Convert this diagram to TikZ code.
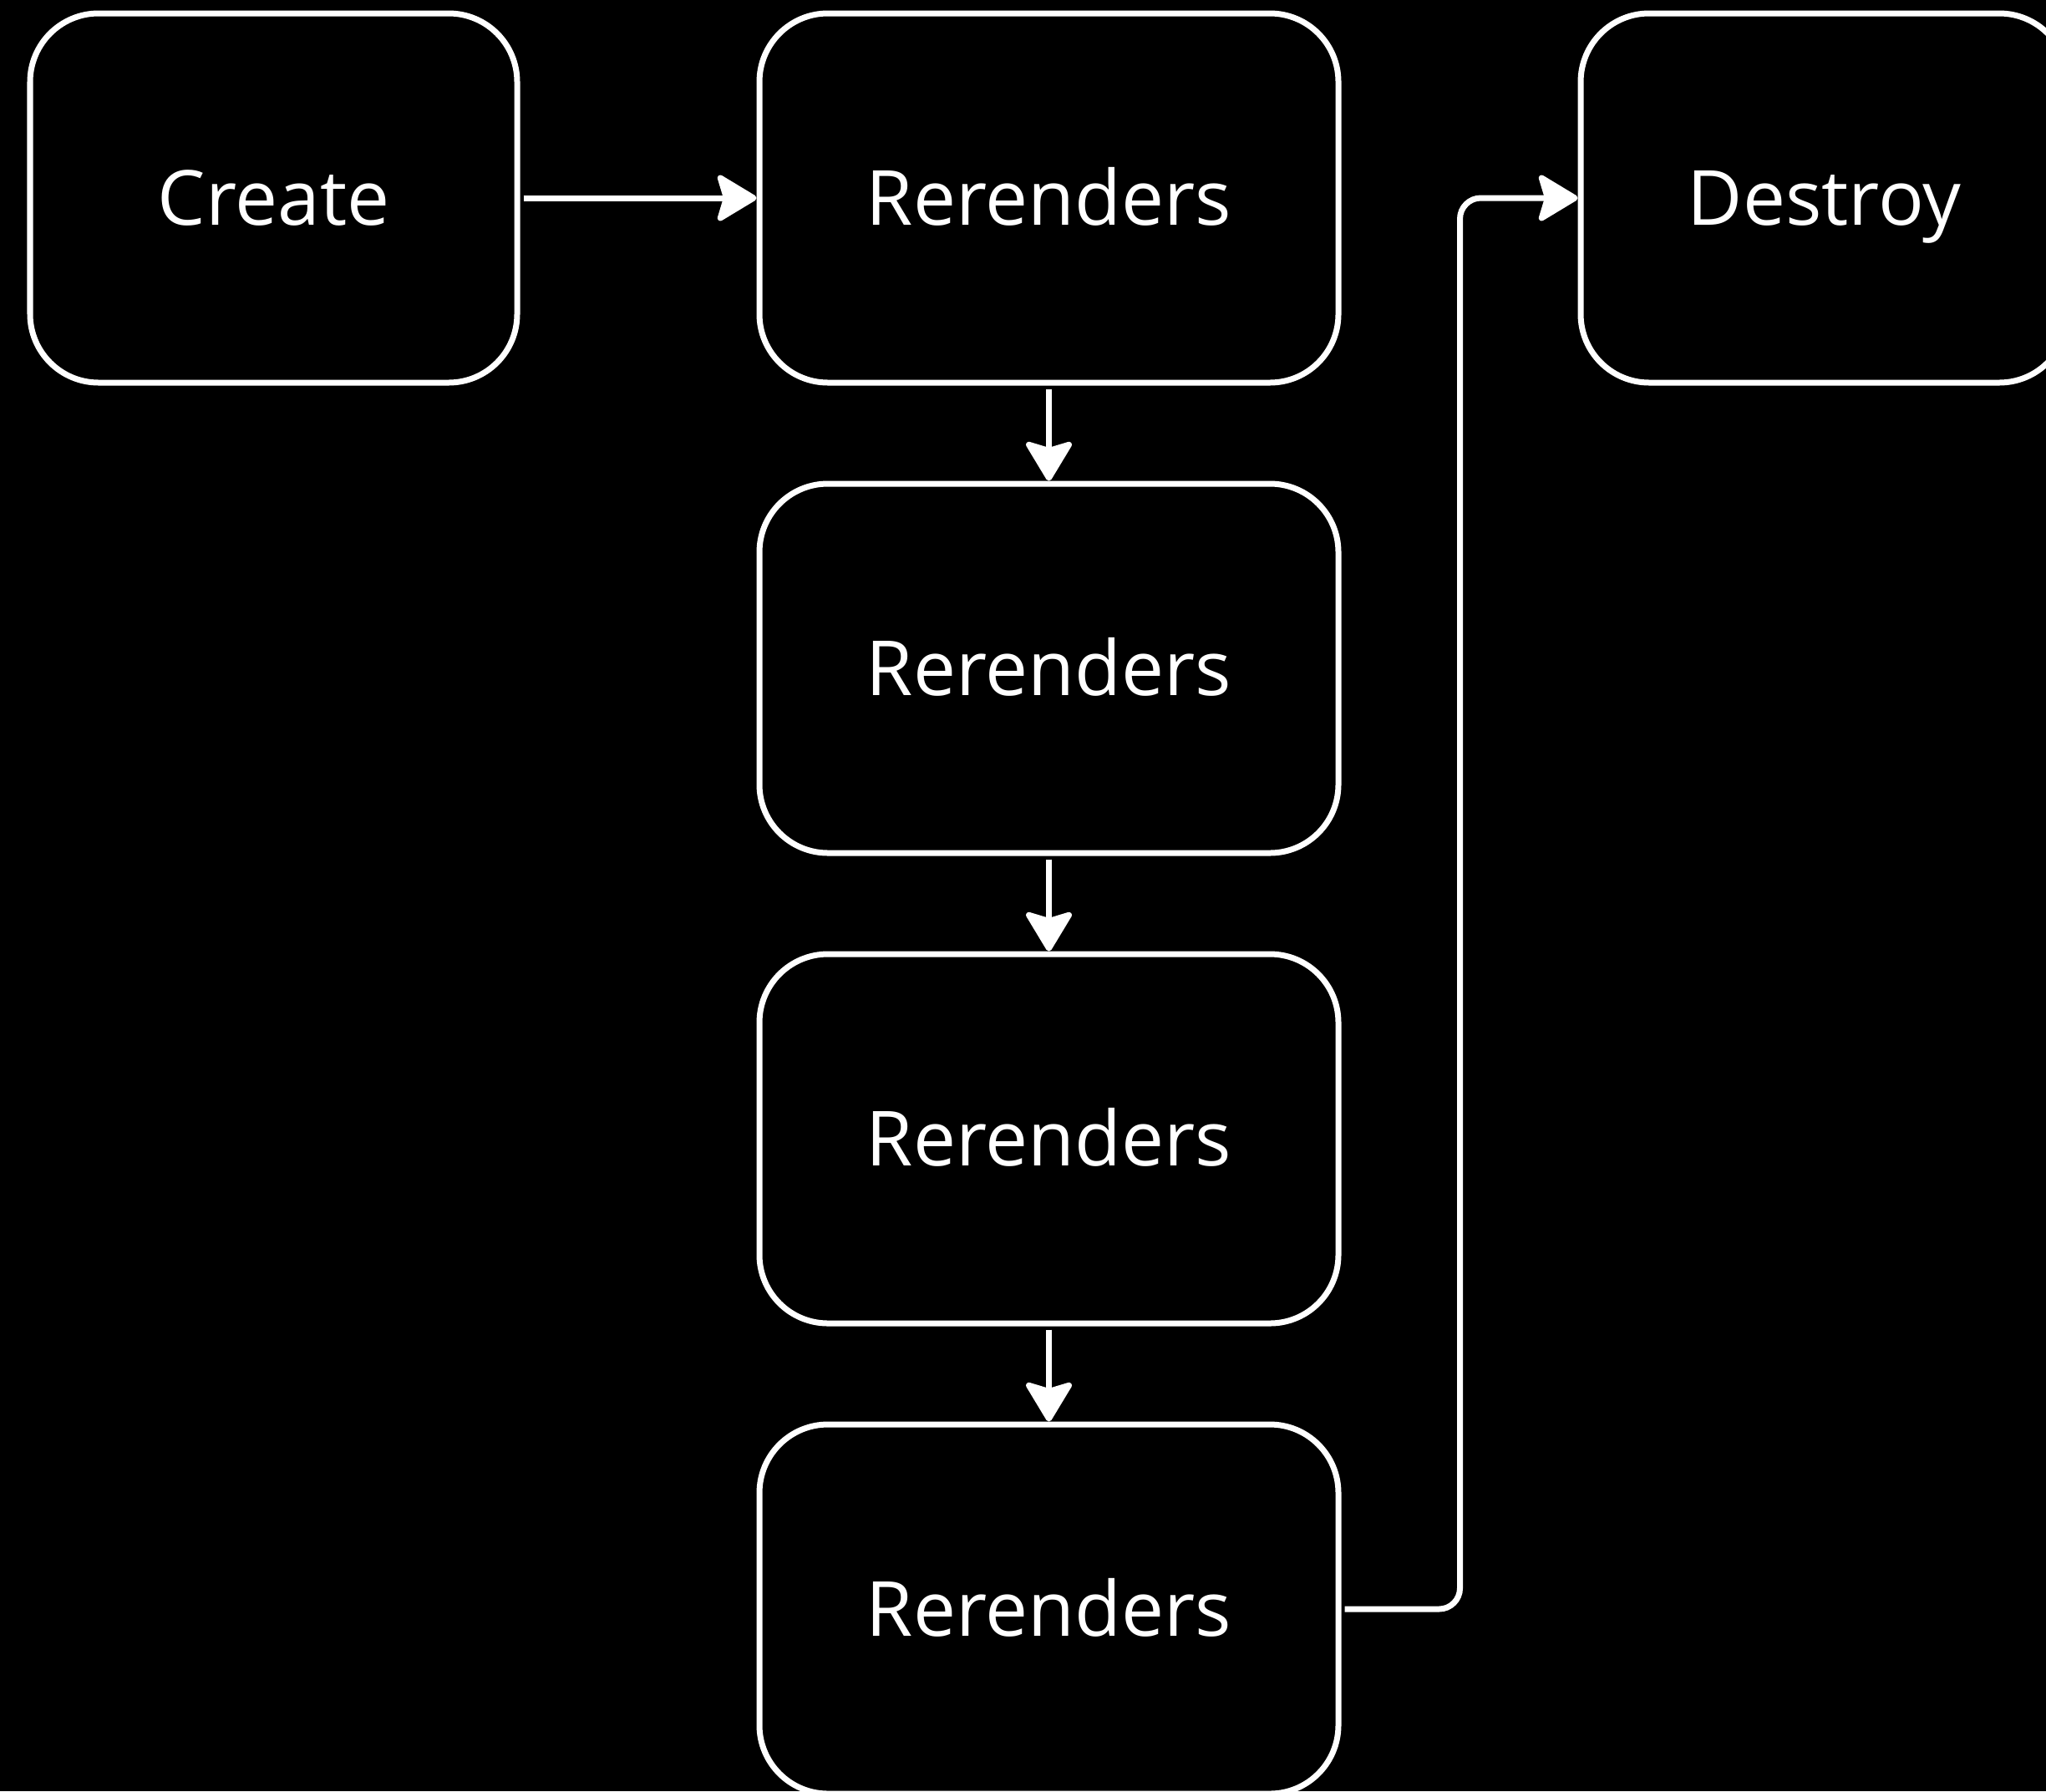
\documentclass[tikz,border=0pt]{standalone}
\usepackage{fontspec}
\setmainfont{Open Sans}
\usetikzlibrary{arrows.meta}
\usetikzlibrary{positioning}

\begin{document}
\begin{tikzpicture}[
      block/.style ={rectangle, draw=white, line width=0.07cm, rounded corners=0.82cm,
                     minimum height=4.42cm, text=white, font=\fontsize{25.9}{31}\selectfont,
                     text height=0.65cm, text depth=0pt},
      small/.style ={block, minimum width=5.83cm},
      wide/.style  ={block, minimum width=6.93cm},
      link/.style  ={-{Stealth[length=0.52cm, width=0.62cm, inset=0.09cm, round, fill=white]},
                     white, line width=0.07cm, shorten <=0.04cm},
      node distance=1.14cm and 2.83cm
    ]
    \useasboundingbox [fill=black] (0,0) rectangle (24.49,-21.44);

    \node [small] (create) at (3.275,-2.37) {Create} ;
    \node [wide] (render1) [right=of create] {Rerenders} ;
    \node [wide] (render2) [below=of render1] {Rerenders} ;
    \node [wide] (render3) [below=of render2] {Rerenders} ;
    \node [wide] (render4) [below=of render3] {Rerenders} ;
    \node [small] (destroy) [right=of render1] {Destroy} ;

    \draw [link] (create) -- (render1) ;
    \draw [link] (render1) -- (render2) ;
    \draw [link] (render2) -- (render3) ;
    \draw [link] (render3) -- (render4) ;
    \draw [link, rounded corners=0.25cm] (render4.east) -- ++(1.42,0) |- (destroy.west) ;
  \end{tikzpicture}
\end{document}
